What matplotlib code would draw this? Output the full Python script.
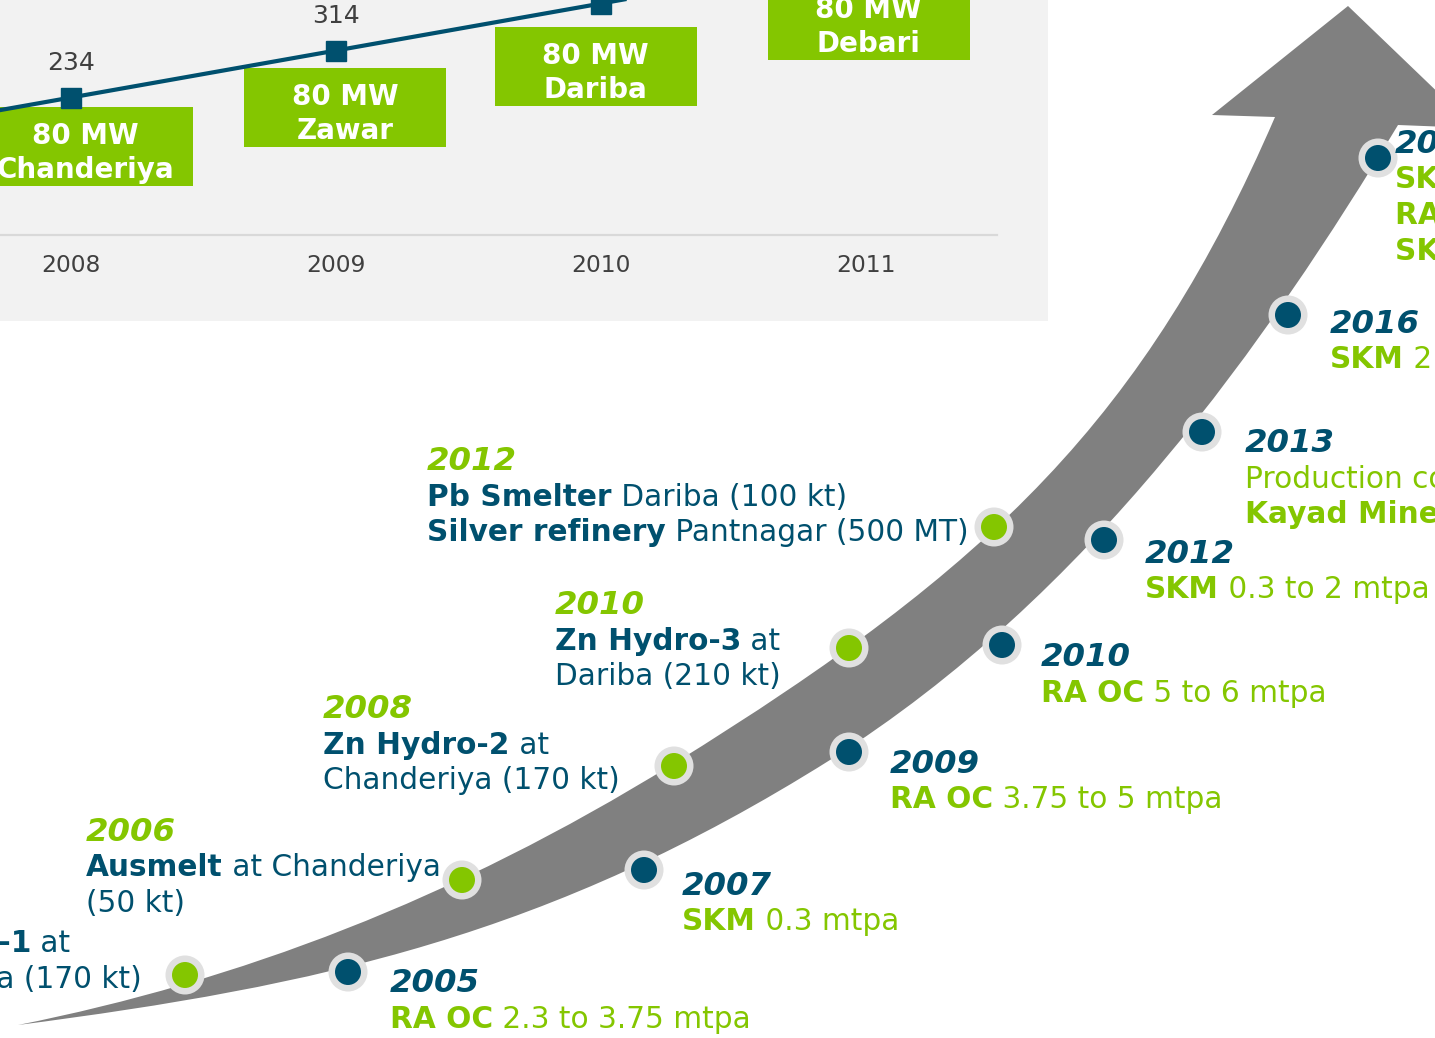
import numpy as np
import matplotlib.pyplot as plt
from matplotlib.path import Path
from matplotlib.patches import PathPatch, Rectangle, Circle

# Colours
TEAL = '#00506e'
GREEN = '#84c600'
GREY_ARROW = '#808080'
RING = '#e0e0e0'

# ---- wind power chart data (top panel) ----
wind_years = [2007, 2008, 2009, 2010, 2011]
wind_mw = [154, 234, 314, 394, 474]
plant_names = ['Chanderiya', 'Zawar', 'Dariba', 'Debari']
plant_mw = ['80 MW', '80 MW', '80 MW', '80 MW']

# ---- smelter milestones (left of the arrow) ----
smelter_years = ['2012', '2010', '2008', '2006', '2005']
smelter_lines = [
    [[('Pb Smelter', 'bold'), (' Dariba (100 kt)', 'normal')],
     [('Silver refinery', 'bold'), (' Pantnagar (500 MT)', 'normal')]],
    [[('Zn Hydro-3', 'bold'), (' at', 'normal')],
     [('Dariba (210 kt)', 'normal')]],
    [[('Zn Hydro-2', 'bold'), (' at', 'normal')],
     [('Chanderiya (170 kt)', 'normal')]],
    [[('Ausmelt', 'bold'), (' at Chanderiya', 'normal')],
     [('(50 kt)', 'normal')]],
    [[('Zn Hydro-1', 'bold'), (' at', 'normal')],
     [('Chanderiya (170 kt)', 'normal')]],
]

# ---- mine milestones (right of the arrow) ----
mine_years = ['2018', '2016', '2013', '2012', '2010', '2009', '2007', '2005']
mine_lines = [
    [[('SKM', 'bold'), (' 3.75 to 4.5 mtpa', 'normal')],
     [('RA UG', 'bold'), (' 4.5 mtpa', 'normal')],
     [('SK Mill', 'bold'), (' 4.5 mtpa', 'normal')]],
    [[('SKM', 'bold'), (' 2 to 3.75 mtpa', 'normal')]],
    [[('Production commenced at', 'normal')],
     [('Kayad Mine', 'bold')]],
    [[('SKM', 'bold'), (' 0.3 to 2 mtpa', 'normal')]],
    [[('RA OC', 'bold'), (' 5 to 6 mtpa', 'normal')]],
    [[('RA OC', 'bold'), (' 3.75 to 5 mtpa', 'normal')]],
    [[('SKM', 'bold'), (' 0.3 mtpa', 'normal')]],
    [[('RA OC', 'bold'), (' 2.3 to 3.75 mtpa', 'normal')]],
]

# layout (pixels, origin top-left)
smelter_pos = [(427, 470), (555, 614), (323, 718), (86, 841), (-155, 917)]
mine_pos = [(1395, 153), (1330, 333), (1245, 452), (1145, 563),
            (1041, 666), (890, 773), (682, 895), (390, 992)]
smelter_dots = [(994, 527), (849, 648), (674, 766), (462, 880), (185, 975)]
mine_dots = [(1378, 158), (1288, 315), (1202, 432), (1104, 540),
             (1002, 645), (849, 752), (644, 870), (348, 972)]

# arrow outline as cubic bezier segments (start, ctrl1, ctrl2, end)
upper_edge = [(18, 1025), (238, 981), (453, 900), (673, 764),
              (993, 566), (1145, 417), (1275, 117)]
lower_edge = [(18, 1025), (318, 986), (550, 936), (830, 760),
              (1090, 596), (1268, 340), (1398, 125)]
arrow_head = [(1212, 115), (1348, 6), (1475, 128), (1398, 125)]

W, H = 1435, 1038
fig = plt.figure(figsize=(W / 100, H / 100), dpi=100)
ax = fig.add_axes([0, 0, 1, 1])
ax.set_xlim(0, W)
ax.set_ylim(H, 0)
ax.axis('off')

verts = list(upper_edge)
codes = [Path.MOVETO] + [Path.CURVE4] * (len(upper_edge) - 1)
verts += arrow_head
codes += [Path.LINETO] * len(arrow_head)
verts += lower_edge[::-1][1:]
codes += [Path.CURVE4] * (len(lower_edge) - 1)
verts.append(upper_edge[0])
codes.append(Path.CLOSEPOLY)
ax.add_patch(PathPatch(Path(verts, codes), facecolor=GREY_ARROW, edgecolor='none'))

for (x, y) in smelter_dots:
    ax.add_patch(Circle((x, y), 19.5, facecolor=RING, edgecolor='none'))
    ax.add_patch(Circle((x, y), 13, facecolor=GREEN, edgecolor='none'))
for (x, y) in mine_dots:
    ax.add_patch(Circle((x, y), 19.5, facecolor=RING, edgecolor='none'))
    ax.add_patch(Circle((x, y), 13, facecolor=TEAL, edgecolor='none'))


def rich_line(x, y, parts, color, size=21.3):
    t = ax.text(x, y, parts[0][0], fontsize=size, fontweight=parts[0][1],
                color=color, ha='left', va='baseline')
    for txt, w in parts[1:]:
        t = ax.annotate(txt, xy=(1, 0), xycoords=t, fontsize=size,
                        fontweight=w, color=color, ha='left', va='bottom')


def milestone(x, y, year, lines, ycol, bcol):
    ax.text(x, y, year, fontsize=23.3, fontweight='bold', fontstyle='italic',
            color=ycol, ha='left', va='baseline')
    for k, parts in enumerate(lines):
        rich_line(x, y + 35.5 * (k + 1), parts, bcol)


for (x, y), yr, lines in zip(smelter_pos, smelter_years, smelter_lines):
    milestone(x, y, yr, lines, GREEN, TEAL)
for (x, y), yr, lines in zip(mine_pos, mine_years, mine_lines):
    milestone(x, y, yr, lines, TEAL, GREEN)

# ---- top panel: wind capacity line chart ----
px_yr = 265.0
px_val = 47 / 80
axc = fig.add_axes([0, 1 - 321 / H, 1048 / W, 321 / H])
axc.set_facecolor('#f2f2f2')
axc.set_xlim(2008 - 71 / px_yr, 2008 + (1048 - 71) / px_yr)
axc.set_ylim((235 - 321) / px_val, 235 / px_val)
for s in axc.spines.values():
    s.set_visible(False)
axc.set_xticks([])
axc.set_yticks([])

axc.axhline(0, xmin=0, xmax=997 / 1048, color='#d9d9d9', lw=1.6)
axc.plot(wind_years, wind_mw, color=TEAL, lw=3, marker='s', ms=14,
         solid_capstyle='butt')
for yr, v in zip(wind_years, wind_mw):
    axc.annotate(str(v), xy=(yr, v), xytext=(0, 28), textcoords='offset pixels',
                 ha='center', va='baseline', fontsize=18, color='#404040')
    axc.text(yr, 1 - 265 / 321, str(yr), transform=axc.get_xaxis_transform(),
             ha='center', va='center', fontsize=16.8, color='#404040')

# green plant boxes: centre x (year units), top edge (MW units)
box_x = [2008.08, 2009.034, 2009.98, 2011.01]
label_x = [2008.053, 2009.034, 2009.98, 2011.01]
box_top = [(235 - 107) / px_val, (235 - 68) / px_val,
           (235 - 27) / px_val, (235 + 19) / px_val]
bw, bh = 202 / px_yr, 79 / px_val
for cx, lx, top, mw, name in zip(box_x, label_x, box_top, plant_mw, plant_names):
    axc.add_patch(Rectangle((cx - bw / 2, top - bh), bw, bh,
                            facecolor=GREEN, edgecolor='none'))
    for txt, dy in ((mw, -37), (name, -71)):
        axc.annotate(txt, xy=(lx, top), xytext=(0, dy), textcoords='offset pixels',
                     ha='center', va='baseline', fontsize=20, fontweight='bold',
                     color='white', annotation_clip=False)

fig.savefig('out.png', dpi=100)
